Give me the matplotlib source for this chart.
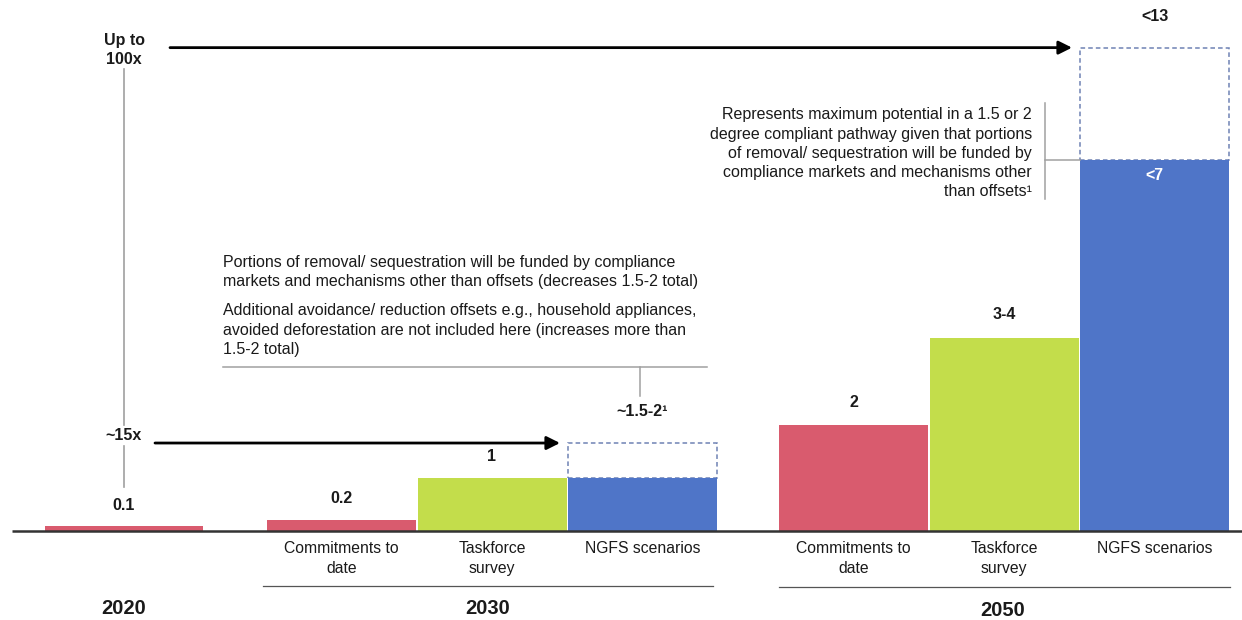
import matplotlib
matplotlib.use("Agg")
import matplotlib.pyplot as plt
from matplotlib.patches import Rectangle

plt.rcParams['font.family'] = ['Liberation Sans', 'DejaVu Sans']

# ---- data -------------------------------------------------------------
years = ["2020", "2030", "2050"]
sources = ["Commitments to\ndate", "Taskforce\nsurvey", "NGFS scenarios"]

value_2020 = 0.1
label_2020 = "0.1"

values_2030 = [0.2, 1.0, 1.0]
labels_2030 = ["0.2", "1", "~1.5-2\u00b9"]
upper_2030 = 1.66            # top of the NGFS range in 2030

values_2050 = [2.0, 3.65, 7.0]
labels_2050 = ["2", "3-4", "<13"]
inner_label_2050 = "<7"
upper_2050 = 9.12            # top of the NGFS range in 2050

multiples = ["~15x", "Up to\n100x"]

notes_2030 = [
    ["Portions of removal/ sequestration will be funded by compliance",
     "markets and mechanisms other than offsets (decreases 1.5-2 total)"],
    ["Additional avoidance/ reduction offsets e.g., household appliances,",
     "avoided deforestation are not included here (increases more than",
     "1.5-2 total)"],
]
note_2050 = [
    "Represents maximum potential in a 1.5 or 2",
    "degree compliant pathway given that portions",
    "of removal/ sequestration will be funded by",
    "compliance markets and mechanisms other",
    "than offsets\u00b9",
]

colors = ["#D95B6E", "#C3DD4B", "#4F75C8"]
dash_color = "#6F82B4"
line_gray = "#A0A0A0"
text_color = "#1A1A1A"

# ---- layout -----------------------------------------------------------
W, H = 1242, 620
BASE = 531          # pixel row of the baseline
U = 53.0            # pixels per unit


def row(py):
    """Pixel row (from top) -> data y."""
    return (BASE - py) / U


fig = plt.figure(figsize=(W / 100, H / 100), dpi=100)
ax = fig.add_axes([0, 0, 1, 1])
ax.set_xlim(0, W)
ax.set_ylim(row(H), row(0))
ax.axis("off")

slot = 150.5
bar_w = 149
x_2020 = 45
w_2020 = 158
x_2030 = [267 + i * slot for i in range(3)]
x_2050 = [779 + i * slot for i in range(3)]

vfont = dict(fontsize=11.5, fontweight="bold", color=text_color,
             ha="center", va="center")

# dashed ranges behind the NGFS bars
for x0, lo, hi in [(x_2030[2], values_2030[2], upper_2030),
                   (x_2050[2], values_2050[2], upper_2050)]:
    ax.add_patch(Rectangle((x0, lo), bar_w, hi - lo, fill=False,
                           ec=dash_color, ls=(0, (3, 2)), lw=1.1, zorder=1))

# bars
ax.bar(x_2020, value_2020, width=w_2020, align="edge", color=colors[0],
       zorder=2)
ax.bar(x_2030, values_2030, width=bar_w, align="edge", color=colors,
       zorder=2)
ax.bar(x_2050, values_2050, width=bar_w, align="edge", color=colors,
       zorder=2)

# value labels
ax.annotate(label_2020, (x_2020 + w_2020 / 2, value_2020), xytext=(0, 14.5),
            textcoords="offset points", **vfont)
tops_2030 = values_2030[:2] + [upper_2030]
for x0, v, lab in zip(x_2030, tops_2030, labels_2030):
    off = 23 if v == upper_2030 else 15.5
    ax.annotate(lab, (x0 + bar_w / 2, v), xytext=(0, off),
                textcoords="offset points", **vfont)
tops_2050 = values_2050[:2] + [upper_2050]
for x0, v, lab in zip(x_2050, tops_2050, labels_2050):
    off = 22.5 if v == upper_2050 else 16.5
    ax.annotate(lab, (x0 + bar_w / 2, v), xytext=(0, off),
                textcoords="offset points", **vfont)
ax.annotate(inner_label_2050, (x_2050[2] + bar_w / 2, values_2050[2]),
            xytext=(0, -11), textcoords="offset points",
            **{**vfont, "color": "white"})

# baseline
ax.plot([12, W], [0, 0], color="#333333", lw=1.8, zorder=3,
        solid_capstyle="butt")

# growth arrows to the top of each range
cx = x_2020 + w_2020 / 2
for y_top, x_start, x_box in [(upper_2050, 170, x_2050[2]),
                              (upper_2030, 155, x_2030[2])]:
    ax.annotate("", xy=(x_box - 8, y_top), xytext=(x_start, y_top),
                arrowprops=dict(arrowstyle="-|>", color="black", lw=2.0,
                                mutation_scale=20, shrinkA=0, shrinkB=0))
ax.text(cx, upper_2050 - 0.04, multiples[1], linespacing=1.3, **vfont)
ax.text(cx, upper_2030 + 0.14, multiples[0], **vfont)
ax.plot([cx, cx], [row(69), row(425)], color=line_gray, lw=1.2)
ax.plot([cx, cx], [row(446), row(487)], color=line_gray, lw=1.2)

# category labels
for xs in (x_2030, x_2050):
    for x0, s in zip(xs, sources):
        ax.text(x0 + bar_w / 2, row(541), s, fontsize=11.3, color=text_color,
                ha="center", va="top", linespacing=1.42)
ax.plot([263, 713], [row(586)] * 2, color="#555555", lw=0.9)
ax.plot([779, 1230], [row(587)] * 2, color="#555555", lw=0.9)

yfont = dict(fontsize=14.5, fontweight="bold", color=text_color,
             ha="center", va="center")
ax.text(cx, row(608), years[0], **yfont)
ax.text(488, row(608), years[1], **yfont)
ax.text(1003, row(610), years[2], **yfont)

# 2030 note
y = 262
for para in notes_2030:
    for line in para:
        ax.text(223, row(y), line, fontsize=11.5, color=text_color,
                ha="left", va="center")
        y += 19.5
    y += 9.5
ax.plot([223, 707], [row(367)] * 2, color=line_gray, lw=1.1)
ax.plot([640, 640], [row(367), row(396)], color=line_gray, lw=1.1)

# 2050 note
for i, line in enumerate(note_2050):
    ax.text(1032, row(115 + 19.2 * i), line, fontsize=11.5,
            color=text_color, ha="right", va="center")
ax.plot([1045, 1045], [row(103), row(199)], color=line_gray, lw=1.1)
ax.plot([1045, x_2050[2]], [values_2050[2]] * 2, color=line_gray, lw=1.1)

fig.savefig("out.png", dpi=100)
